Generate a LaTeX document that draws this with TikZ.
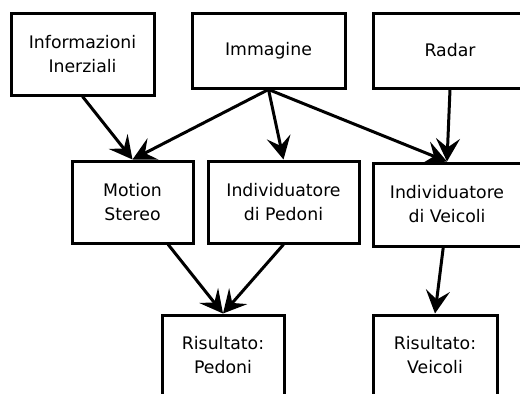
\documentclass[tikz,border=0pt]{standalone}
\usepackage{fontspec}
\setmainfont{DejaVu Sans}
\usetikzlibrary{arrows.meta}

\tikzset{
  blocco/.style={draw, line width=3pt, align=center, inner sep=0pt,
    font=\fontsize{17.3}{24}\selectfont},
  freccia/.style={line width=3pt, -{Stealth[length=23pt,width=24pt,inset=9pt]}}
}

\begin{document}
\begin{tikzpicture}[x=1pt,y=-1pt]

    \useasboundingbox (0,0) rectangle (520,394);
    \clip (0,0) rectangle (520,394);

    % sorgenti
    \node (info) [blocco, minimum width=143pt, minimum height=82pt] at (82.5,54) {Informazioni\\Inerziali};
    \node (img) [blocco, minimum width=153pt, minimum height=75pt] at (268.5,50.5) {Immagine};
    \node (radar) [blocco, minimum width=154pt, minimum height=75pt] at (450,50.5) {Radar};

    % elaborazione
    \node (motion) [blocco, minimum width=121pt, minimum height=82pt] at (132.5,202) {Motion\\Stereo};
    \node (ped) [blocco, minimum width=151pt, minimum height=82pt] at (283.5,202) {Individuatore\\di Pedoni};
    \node (veic) [blocco, minimum width=148pt, minimum height=83pt] at (447,204.5) {Individuatore\\di Veicoli};

    % uscite
    \node (rp) [blocco, minimum width=122pt, minimum height=80pt] at (223,355) {Risultato:\\Pedoni};
    \node (rv) [blocco, minimum width=124pt, minimum height=80pt] at (435,355) {Risultato:\\Veicoli};

    \draw[freccia] (info.south) -- (motion.north);
    \foreach \dest in {motion,ped,veic}
    \draw[freccia] (img.south) -- (\dest.north);
    \draw[freccia] (radar.south) -- (veic.north);
    \draw[freccia] (motion.-50) -- (rp.north);
    \draw[freccia] (ped.south) -- (rp.north);
    \draw[freccia] (veic.-95) -- (rv.north);

\end{tikzpicture}
\end{document}
